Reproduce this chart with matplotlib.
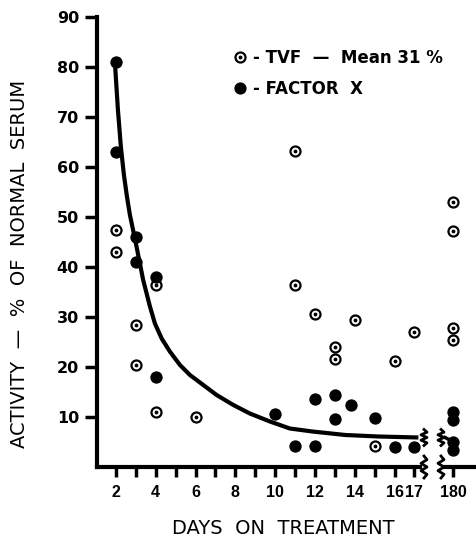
import matplotlib.pyplot as plt
import numpy as np
from matplotlib.lines import Line2D
from matplotlib.legend_handler import HandlerTuple
from matplotlib.transforms import IdentityTransform

plt.rcParams['font.family'] = 'DejaVu Sans'

# TVF activity (open circles), % of normal serum
tvf_days = [2, 2, 3, 3, 4, 4, 6, 11, 11, 12, 13, 13, 14, 15, 16, 17]
tvf_vals = [47.5, 43, 28.5, 20.5, 36.5, 11, 10, 63.3, 36.5, 30.7, 24.1, 21.7, 29.4, 4.3, 21.3, 27.1]
tvf_180 = [53, 47.2, 27.9, 25.4]

# factor X (filled dots)
fx_days = [2, 2, 3, 3, 4, 4, 10, 11, 12, 12, 13, 13, 13.8, 15, 16, 17]
fx_vals = [81, 63, 46, 41, 38, 18, 10.7, 4.3, 4.3, 13.7, 14.4, 9.7, 12.5, 9.8, 4.1, 4.1]
fx_180 = [11.1, 9.5, 5.1, 3.4]

# hand drawn curve
curve_x = [1.95, 2.1, 2.25, 2.4, 2.55, 2.7, 3.03, 3.37, 3.71, 3.96, 4.3, 4.71, 5.22, 5.72,
           6.39, 7.06, 7.9, 8.73, 9.74, 10.74, 11.87, 13.53, 15.2, 17.2]
curve_y = [80.9, 71.5, 64, 58.5, 54.2, 50.5, 44.2, 37.4, 32.1, 28.7, 25.7, 23.1, 20.4, 18.4,
           16.4, 14.4, 12.4, 10.7, 9.1, 7.7, 7.1, 6.4, 6.1, 5.9]
curve_180_x = [179.6, 180.0]
curve_180_y = [5.9, 5.1]

day_ticks = list(range(2, 18))
day_labels = [str(d) if d % 2 == 0 or d == 17 else '' for d in day_ticks]
y_ticks = list(range(10, 100, 10))

W, H = 476, 539
fig = plt.figure(figsize=(W / 100, H / 100), dpi=100)

def px_box(x0, x1, y0, y1):
    return [x0 / W, 1 - y1 / H, (x1 - x0) / W, (y1 - y0) / H]

ax1 = fig.add_axes(px_box(97, 420, 17, 467))
ax2 = fig.add_axes(px_box(445, 476, 17, 467), sharey=ax1)
ax2.set_facecolor('none')

ax1.set_xlim(1.05, 17.28)
ax2.set_xlim(179.6, 181.16)
ax1.set_ylim(0, 90)

def open_pts(ax, x, y):
    ax.scatter(x, y, s=52, facecolor='white', edgecolor='black', linewidth=1.6, zorder=3, clip_on=False)
    ax.scatter(x, y, s=3, color='black', zorder=4, clip_on=False)

def filled_pts(ax, x, y):
    ax.scatter(x, y, s=62, color='black', zorder=3, clip_on=False)

open_pts(ax1, tvf_days, tvf_vals)
open_pts(ax2, [180] * len(tvf_180), tvf_180)
filled_pts(ax1, fx_days, fx_vals)
filled_pts(ax2, [180] * len(fx_180), fx_180)

ax1.plot(curve_x, curve_y, color='black', lw=3, solid_capstyle='butt', solid_joinstyle='round', zorder=2)
ax2.plot(curve_180_x, curve_180_y, color='black', lw=2.5, zorder=2, clip_on=False)

for ax in (ax1, ax2):
    for s in ('top', 'right'):
        ax.spines[s].set_visible(False)
    ax.spines['bottom'].set_linewidth(3)
    ax.tick_params(axis='x', direction='out', length=7, width=2.5, pad=6)
ax1.spines['left'].set_linewidth(3)
ax2.spines['left'].set_visible(False)

xfont = {'family': 'Liberation Sans', 'weight': 'bold', 'size': 11.5}
ax1.set_xticks(day_ticks)
ax1.set_xticklabels(day_labels, fontdict=xfont)
ax1.set_yticks(y_ticks)
ax1.set_yticklabels([str(v) for v in y_ticks], fontweight='bold')
ax1.tick_params(axis='y', direction='out', length=9, width=2.5, labelsize=11.5, pad=4)
ax2.set_xticks([180])
ax2.set_xticklabels(['180'], fontdict=xfont)
ax2.tick_params(axis='y', left=False, labelleft=False)

# break marks
fig.canvas.draw()
def squiggle(x, y, h=22, w=6):
    yy = y + np.linspace(-h / 2, h / 2, 7)
    xx = x + w / 2 * np.array([0, 1, -1, 1, -1, 1, 0])
    fig.add_artist(Line2D(xx, yy, transform=IdentityTransform(), color='black', lw=2))

bx, by = ax1.transAxes.transform((1, 0))
squiggle(bx + 4, by)
bx2, _ = ax2.transAxes.transform((0, 0))
squiggle(bx2 - 4, by)
cx, cy = ax1.transData.transform((curve_x[-1], curve_y[-1]))
squiggle(bx + 4, cy, h=16)
_, cy2 = ax2.transData.transform((curve_180_x[0], curve_180_y[0]))
squiggle(bx2 - 4, cy2, h=16)

# legend
h_open = (Line2D([], [], marker='o', ls='', mfc='white', mec='black', ms=7.2, mew=1.6),
          Line2D([], [], marker='o', ls='', color='black', ms=1.8))
h_fill = Line2D([], [], marker='o', ls='', color='black', ms=7.8)
leg = ax1.legend([h_open, h_fill], ['- TVF  —  Mean 31 %', '- FACTOR  Ⅹ'],
                 handler_map={tuple: HandlerTuple(ndivide=1, pad=0)},
                 loc='upper left', bbox_to_anchor=(0.395, 0.947), frameon=False,
                 handlelength=0.8, handletextpad=0.4, borderpad=0, labelspacing=0.75,
                 prop={'size': 12, 'weight': 'bold'})
leg.set_zorder(10)

fig.text(283 / W, 1 - 528 / H, 'DAYS  ON  TREATMENT', ha='center', va='center', fontsize=14)
fig.text(20 / W, 1 - 264 / H, 'ACTIVITY  —  %  OF  NORMAL  SERUM', rotation=90,
         ha='center', va='center', fontsize=14)

fig.savefig('out.png', dpi=100)
